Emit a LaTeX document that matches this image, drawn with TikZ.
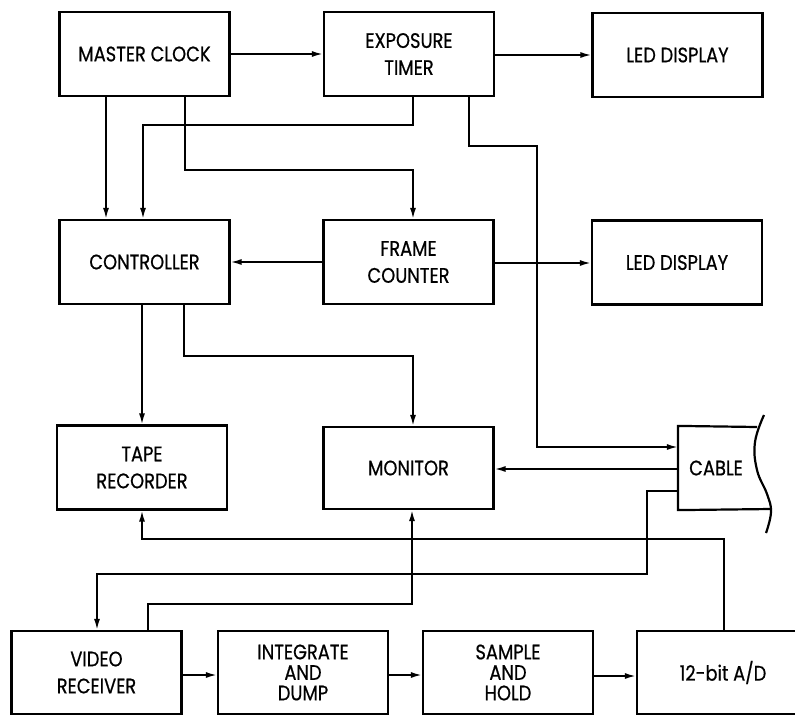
\documentclass[tikz,border=0pt]{standalone}
\usepackage{fontspec}
\setmainfont{Poppins}[FakeStretch=0.85,FakeBold=0.6]
\usetikzlibrary{arrows.meta,calc}
\begin{document}
\begin{tikzpicture}[x=1pt,y=-1pt,
  box/.style={draw, line width=2.2pt, minimum width=170pt, minimum height=84pt,
    align=center, inner sep=0pt, font=\fontsize{21}{27}\selectfont},
  tbox/.style={box, font=\fontsize{21}{20.5}\selectfont},
  conn/.style={line width=1.7pt, -{Latex[length=11pt,width=6pt]}},
  edge/.style={line width=2.2pt}]
\useasboundingbox (0,0) rectangle (795,715);

% nodes
\node[box] (mc) at (144.5,54) {MASTER CLOCK};
\node[box] (et) at (409,54) {EXPOSURE\\TIMER};
\node[box] (led1) at (677.5,55) {LED DISPLAY};
\node[box] (ctrl) at (144.5,262) {CONTROLLER};
\node[box] (fc) at (408.5,262) {FRAME\\COUNTER};
\node[box] (led2) at (677,262.5) {LED DISPLAY};
\node[box] (tape) at (142,467.5) {TAPE\\RECORDER};
\node[box, minimum height=82pt] (mon) at (408.5,468) {MONITOR};
\node[box, draw=none, minimum width=74pt, minimum height=82pt] (cable) at (716,468) {CABLE};
\node[box, minimum height=83pt] (vr) at (96.5,672.5) {VIDEO\\RECEIVER};
\node[tbox, minimum height=83pt] (id) at (303,672.5) {INTEGRATE\\AND\\DUMP};
\node[tbox, minimum height=83pt] (sh) at (508,672.5) {SAMPLE\\AND\\HOLD};
\node[box, minimum height=83pt, minimum width=172pt] (ad) at (723,672.5) {12-bit A/D};

% cable outline
\draw[edge] (757,427) -- (cable.north west) -- (cable.south west) -- (771,509);
\draw[edge] plot[smooth, tension=0.7] coordinates {(764,415) (755,442) (757,470) (767,494) (771,512) (766,533)};

% connectors
\draw[conn] (mc) -- (et);
\draw[conn] (et.east |- 0,55) -- (led1.west |- 0,55);
\draw[conn] (106,0 |- mc.south) -- (ctrl.north -| 106,0);
\draw[conn] (413,0 |- et.south) -- (413,125) -- (143,125) -- (ctrl.north -| 143,0);
\draw[conn] (185,0 |- mc.south) -- (185,170) -- (413,170) -- (fc.north -| 413,0);
\draw[conn] (fc) -- (ctrl);
\draw[conn] (fc.east |- 0,263) -- (led2.west |- 0,263);
\draw[conn] (469,0 |- et.south) -- (469,146) -- (537,146) -- (537,447) -- (cable.west |- 0,447);
\draw[conn] (cable.west |- 0,469) -- (mon.east |- 0,469);
\draw[conn] (142,0 |- ctrl.south) -- (tape.north -| 142,0);
\draw[conn] (184,0 |- ctrl.south) -- (184,356) -- (413,356) -- (mon.north -| 413,0);
\draw[conn] (cable.west |- 0,491) -- (647,491) -- (647,574) -- (97,574) -- (vr.north -| 97,0);
\draw[conn] (724,0 |- ad.north) -- (724,539) -- (142,539) -- (tape.south -| 142,0);
\draw[conn] (148,0 |- vr.north) -- (148,604) -- (412,604) -- (mon.south -| 412,0);
\draw[conn] (vr.east |- 0,675) -- (id.west |- 0,675);
\draw[conn] (id.east |- 0,675) -- (sh.west |- 0,675);
\draw[conn] (sh.east |- 0,676) -- (ad.west |- 0,676);
\end{tikzpicture}
\end{document}
